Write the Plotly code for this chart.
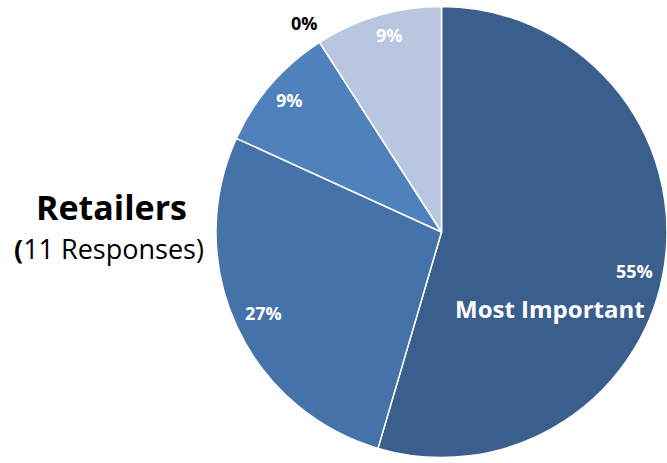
import plotly.graph_objects as go

# Retailer ranking responses (count per category)
categories = ["Most Important", "Second", "Third", "Fourth", "Least Important"]
responses = [6, 3, 1, 0, 1]
colors = ["#3B5F8D", "#4572A8", "#4F81BD", "#4F81BD", "#B9C6E0"]

total = sum(responses)
pct = [f"{round(v / total * 100)}%" for v in responses]

W, H = 667, 463

fig = go.Figure(
    go.Pie(
        labels=categories,
        values=responses,
        sort=False,
        direction="clockwise",
        rotation=0,
        marker=dict(colors=colors, line=dict(color="white", width=1.5)),
        textinfo="none",
        hoverinfo="label+percent",
        showlegend=False,
        domain=dict(x=[216 / W, 1.0], y=[3 / H, 1 - 4 / H]),
    )
)

def px(x, y):
    return x / W, 1 - y / H

font_main = "Open Sans, Liberation Sans, Arial"
# (label text, pixel position, colour)
label_specs = [
    (pct[0], (634, 271), "white"),
    (pct[1], (263, 313), "white"),
    (pct[2], (289, 100), "white"),
    (pct[3], (304, 23), "black"),
    (pct[4], (389, 35), "white"),
]
annotations = []
for text, (x, y), col in label_specs:
    ax, ay = px(x, y)
    annotations.append(dict(
        text=f"<b>{text}</b>", x=ax, y=ay, xref="paper", yref="paper",
        showarrow=False, font=dict(family=font_main, size=18, color=col),
        xanchor="center", yanchor="middle",
    ))

ax, ay = px(550, 308)
annotations.append(dict(
    text="<b>Most Important</b>", x=ax, y=ay, xref="paper", yref="paper",
    showarrow=False, font=dict(family=font_main, size=24, color="white"),
    xanchor="center", yanchor="middle",
))

ax, ay = px(111, 207)
annotations.append(dict(
    text="<b>Retailers</b>", x=ax, y=ay, xref="paper", yref="paper",
    showarrow=False, font=dict(family=font_main, size=34, color="black"),
    xanchor="center", yanchor="middle",
))
ax, ay = px(109, 249)
annotations.append(dict(
    text="<b>(</b>11 Responses)", x=ax, y=ay, xref="paper", yref="paper",
    showarrow=False, font=dict(family=font_main, size=27, color="black"),
    xanchor="center", yanchor="middle",
))

fig.update_layout(
    width=W, height=H,
    margin=dict(l=0, r=0, t=0, b=0),
    paper_bgcolor="white",
    plot_bgcolor="white",
    annotations=annotations,
)

fig.write_html("out.html")
